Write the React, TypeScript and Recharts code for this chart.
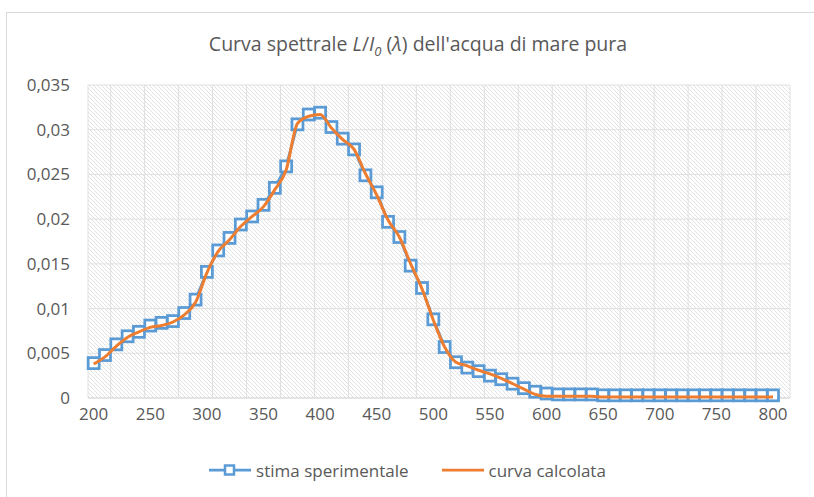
import { LineChart, Line, XAxis, YAxis, CartesianGrid, Legend } from 'recharts'

const wavelengths = [
  200, 210, 220, 230, 240, 250, 260, 270, 280, 290,
  300, 310, 320, 330, 340, 350, 360, 370, 380, 390,
  400, 410, 420, 430, 440, 450, 460, 470, 480, 490,
  500, 510, 520, 530, 540, 550, 560, 570, 580, 590,
  600, 610, 620, 630, 640, 650, 660, 670, 680, 690,
  700, 710, 720, 730, 740, 750, 760, 770, 780, 790,
  800,
]

const stimaSperimentale = [
  0.0039, 0.0048, 0.006, 0.0069, 0.0074, 0.0081, 0.0084, 0.0086, 0.0095, 0.011,
  0.0141, 0.0165, 0.0179, 0.0194, 0.0203, 0.0216, 0.0235, 0.0259, 0.0306, 0.0317,
  0.0319, 0.0303, 0.029, 0.0278, 0.0249, 0.023, 0.0197, 0.018, 0.0148, 0.0123,
  0.0088, 0.0057, 0.004, 0.0034, 0.003, 0.0025, 0.0021, 0.0016, 0.0011, 0.0007,
  0.0005, 0.0004, 0.0004, 0.0004, 0.0004, 0.0003, 0.0003, 0.0003, 0.0003, 0.0003,
  0.0003, 0.0003, 0.0003, 0.0003, 0.0003, 0.0003, 0.0003, 0.0003, 0.0003, 0.0003,
  0.0003,
]

const curvaCalcolata = [
  0.0038, 0.0046, 0.0058, 0.0068, 0.0074, 0.0079, 0.0081, 0.0085, 0.0093, 0.0107,
  0.014, 0.0164, 0.0177, 0.0192, 0.0203, 0.0214, 0.0233, 0.0255, 0.0307, 0.0315,
  0.0317, 0.0302, 0.0289, 0.0278, 0.0251, 0.0227, 0.0199, 0.018, 0.015, 0.0122,
  0.0087, 0.0057, 0.004, 0.0036, 0.0031, 0.0027, 0.0022, 0.0016, 0.001, 0.0004,
  0.0002, 0.0002, 0.0002, 0.0002, 0.0002, 0.0001, 0.0001, 0.0001, 0.0001, 0.0001,
  0.0001, 0.0001, 0.0001, 0.0001, 0.0001, 0.0001, 0.0001, 0.0001, 0.0001, 0.0001,
  0.0001,
]

const xTicks = [200, 250, 300, 350, 400, 450, 500, 550, 600, 650, 700, 750, 800]
const yTicks = [0, 0.005, 0.01, 0.015, 0.02, 0.025, 0.03, 0.035]

const data = wavelengths.map((w, i) => ({
  w,
  stima: stimaSperimentale[i],
  calc: curvaCalcolata[i],
}))

// gridlines sit between categories, like Excel's category axis
const gridTicks = [...wavelengths.map((w) => w - 5), 805, 815]

const BLUE = '#5B9BD5'
const ORANGE = '#ED7D31'
const TEXT = '#595959'
const FONT = '"Open Sans", sans-serif'

const SquareDot = (props: { cx?: number; cy?: number; index?: number }) => {
  const { cx, cy, index } = props
  if (cx == null || cy == null) return null
  return (
    <rect
      key={index}
      x={cx - 5.5}
      y={cy - 5.5}
      width={11}
      height={11}
      fill="#fff"
      stroke={BLUE}
      strokeWidth={2.75}
    />
  )
}

const LegendContent = () => (
  <div
    style={{
      display: 'flex',
      justifyContent: 'center',
      alignItems: 'center',
      fontFamily: FONT,
      fontSize: 17,
      color: TEXT,
      height: 30,
    }}
  >
    <svg width={44} height={16} style={{ marginRight: 4 }}>
      <line x1={1} y1={8} x2={43} y2={8} stroke={BLUE} strokeWidth={2.75} />
      <rect x={17} y={3.5} width={9} height={9} fill="#fff" stroke={BLUE} strokeWidth={2.5} />
    </svg>
    <span>stima sperimentale</span>
    <svg width={44} height={16} style={{ marginLeft: 32, marginRight: 4 }}>
      <line x1={1} y1={8} x2={43} y2={8} stroke={ORANGE} strokeWidth={2.75} />
    </svg>
    <span>curva calcolata</span>
  </div>
)

export default function App() {
  return (
    <div
      style={{
        position: 'absolute',
        left: 0,
        top: 0,
        width: 814,
        height: 497,
        overflow: 'hidden',
        background: '#fff',
      }}
    >
      <div
        style={{
          position: 'absolute',
          left: 6,
          top: 12,
          width: 900,
          height: 600,
          border: '1px solid #d9d9d9',
        }}
      />
      <div
        style={{
          position: 'absolute',
          left: 0,
          top: 30,
          width: 836,
          textAlign: 'center',
          fontFamily: FONT,
          fontSize: 19.5,
          color: TEXT,
        }}
      >
        Curva spettrale <i>L</i>/<i>I</i>
        <sub style={{ fontSize: 13 }}>
          <i>0</i>
        </sub>{' '}
        (<i>λ</i>) dell'acqua di mare pura
      </div>
      <div style={{ position: 'absolute', left: 0, top: 0 }}>
        <LineChart
          width={814}
          height={497}
          data={data}
          margin={{ top: 85, right: 24, left: 18, bottom: 69 }}
        >
          <defs>
            <pattern id="hatch" width={4} height={4} patternUnits="userSpaceOnUse">
              <rect width={4} height={4} fill="#fff" />
              <path d="M-1,-1 L5,5" stroke="#e2e2e2" strokeWidth={1} />
            </pattern>
          </defs>
          <CartesianGrid
            xAxisId="grid"
            stroke="#e0e0e0"
            fill="url(#hatch)"
            fillOpacity={1}
          />
          <XAxis
            xAxisId="grid"
            dataKey="w"
            type="number"
            domain={[195, 815]}
            ticks={gridTicks}
            hide
          />
          <XAxis
            dataKey="w"
            type="number"
            domain={[195, 815]}
            ticks={xTicks}
            interval={0}
            tickLine={false}
            tickSize={0}
            tickMargin={10}
            axisLine={{ stroke: '#d9d9d9' }}
            height={30}
            tick={{ fontFamily: FONT, fontSize: 17, fill: TEXT }}
          />
          <YAxis
            domain={[0, 0.035]}
            ticks={yTicks}
            interval={0}
            tickLine={false}
            tickSize={0}
            tickMargin={18}
            axisLine={false}
            width={70}
            tickFormatter={(v: number) => String(v).replace('.', ',')}
            tick={{ fontFamily: FONT, fontSize: 17, fill: TEXT }}
          />
          <Legend
            verticalAlign="middle"
            align="center"
            content={<LegendContent />}
            wrapperStyle={{ top: 455, left: 0, width: 814 }}
          />
          <Line
            dataKey="stima"
            name="stima sperimentale"
            stroke={BLUE}
            strokeWidth={2.75}
            dot={<SquareDot />}
            activeDot={false}
            isAnimationActive={false}
          />
          <Line
            type="monotone"
            dataKey="calc"
            name="curva calcolata"
            stroke={ORANGE}
            strokeWidth={3}
            dot={false}
            activeDot={false}
            isAnimationActive={false}
            zIndex={1000}
          />
        </LineChart>
      </div>
    </div>
  )
}
